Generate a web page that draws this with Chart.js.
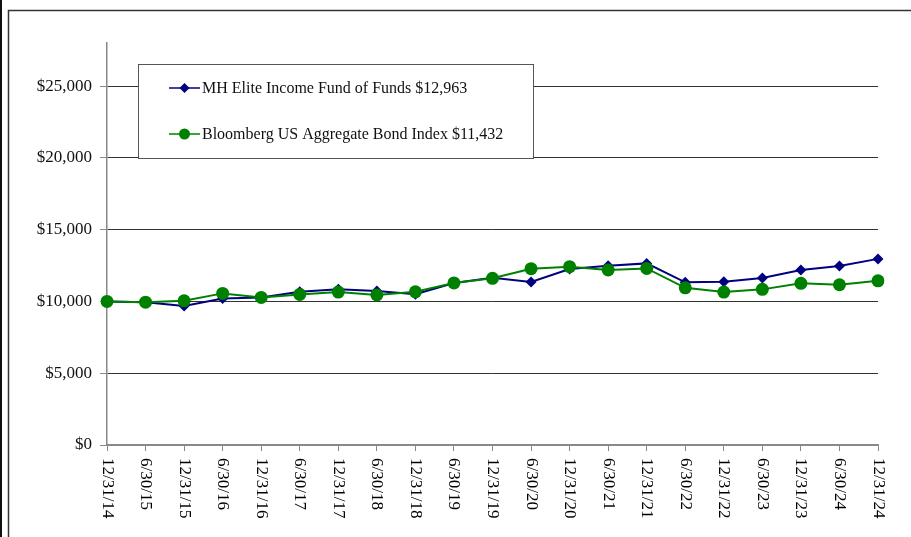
<!DOCTYPE html>
<html>
<head>
<meta charset="utf-8">
<script src="https://cdn.jsdelivr.net/npm/chart.js@4"></script>
<style>
  html, body { margin: 0; padding: 0; background: #fff; }
  #wrap { width: 911px; height: 537px; }
</style>
</head>
<body>
<div id="wrap"><canvas id="growthChart" width="911" height="537"></canvas></div>
<script>
const dates = ['12/31/14', '6/30/15', '12/31/15', '6/30/16', '12/31/16', '6/30/17', '12/31/17',
    '6/30/18', '12/31/18', '6/30/19', '12/31/19', '6/30/20', '12/31/20', '6/30/21', '12/31/21',
    '6/30/22', '12/31/22', '6/30/23', '12/31/23', '6/30/24', '12/31/24'];

const fundValues = [10000, 9950, 9680, 10210, 10280, 10680, 10840, 10720, 10500, 11280, 11650,
    11350, 12260, 12490, 12650, 11330, 11370, 11630, 12190, 12470, 12963];

const bondValues = [10000, 9950, 10040, 10560, 10280, 10490, 10650, 10450, 10670, 11290, 11610,
    12280, 12420, 12190, 12300, 10950, 10650, 10840, 11260, 11160, 11432];

const yTickValues = [0, 5000, 10000, 15000, 20000, 25000];

const fundLabel = 'MH Elite Income Fund of Funds $12,963';
const bondLabel = 'Bloomberg US Aggregate Bond Index $11,432';

const FONT = '"Liberation Serif", "Times New Roman", serif';
const NAVY = '#000080';
const GREEN = '#008000';

const fmtDollar = v => '$' + v.toLocaleString('en-US');

// outer frame like the original exhibit
const framePlugin = {
    id: 'frame',
    beforeDraw(chart) {
        const ctx = chart.ctx;
        ctx.save();
        ctx.fillStyle = '#fff';
        ctx.fillRect(0, 0, chart.width, chart.height);
        ctx.fillStyle = '#111';
        ctx.fillRect(0, 0, 2, chart.height);
        ctx.strokeStyle = '#333';
        ctx.lineWidth = 1.5;
        ctx.beginPath();
        ctx.moveTo(8.5, chart.height);
        ctx.lineTo(8.5, 10.5);
        ctx.lineTo(chart.width, 10.5);
        ctx.stroke();
        ctx.restore();
    }
};

// x labels read top-to-bottom (rotated clockwise)
const xLabelPlugin = {
    id: 'xLabels',
    afterDraw(chart) {
        const ctx = chart.ctx;
        const xs = chart.scales.x;
        ctx.save();
        ctx.font = '17px ' + FONT;
        ctx.fillStyle = '#000';
        ctx.textAlign = 'left';
        ctx.textBaseline = 'middle';
        xs.ticks.forEach((t, i) => {
            const x = xs.getPixelForTick(i);
            ctx.save();
            ctx.translate(x, xs.top + 13);
            ctx.rotate(Math.PI / 2);
            ctx.fillText(dates[i], 0, 0);
            ctx.restore();
        });
        ctx.restore();
    }
};

// boxed legend inside the plot
const legendBoxPlugin = {
    id: 'legendBox',
    afterDatasetsDraw(chart) {
        const ctx = chart.ctx;
        const box = { x: 138.5, y: 64.5, w: 395, h: 94 };
        ctx.save();
        ctx.fillStyle = '#fff';
        ctx.fillRect(box.x, box.y, box.w, box.h);
        ctx.strokeStyle = '#555';
        ctx.lineWidth = 1;
        ctx.strokeRect(box.x, box.y, box.w, box.h);
        const rows = [
            { ds: chart.data.datasets[0], y: 88 },
            { ds: chart.data.datasets[1], y: 134 }
        ];
        rows.forEach(r => {
            ctx.strokeStyle = r.ds.borderColor;
            ctx.lineWidth = 1.5;
            ctx.beginPath();
            ctx.moveTo(169, r.y);
            ctx.lineTo(200, r.y);
            ctx.stroke();
            ctx.fillStyle = r.ds.borderColor;
            ctx.beginPath();
            if (r.ds.pointStyle === 'rectRot') {
                ctx.moveTo(184.5, r.y - 5);
                ctx.lineTo(189.5, r.y);
                ctx.lineTo(184.5, r.y + 5);
                ctx.lineTo(179.5, r.y);
                ctx.closePath();
            } else {
                ctx.arc(184.5, r.y, 5.5, 0, Math.PI * 2);
            }
            ctx.fill();
            ctx.fillStyle = '#111';
            ctx.font = '16px ' + FONT;
            ctx.textAlign = 'left';
            ctx.textBaseline = 'middle';
            ctx.fillText(r.ds.label, 202, r.y + 1);
        });
        ctx.restore();
    }
};

const ctx = document.getElementById('growthChart').getContext('2d');
const chart = new Chart(ctx, {
    type: 'line',
    data: {
        labels: dates,
        datasets: [
            {
                label: fundLabel,
                data: fundValues,
                borderColor: NAVY,
                backgroundColor: NAVY,
                borderWidth: 2,
                pointStyle: 'rectRot',
                pointRadius: 5.5,
                pointBorderWidth: 0,
                tension: 0,
                order: 1
            },
            {
                label: bondLabel,
                data: bondValues,
                borderColor: GREEN,
                backgroundColor: GREEN,
                borderWidth: 2,
                pointStyle: 'circle',
                pointRadius: 6.5,
                pointBorderWidth: 0,
                tension: 0,
                order: 0
            }
        ]
    },
    options: {
        responsive: false,
        animation: false,
        layout: { padding: { top: 43, right: 33, left: 0, bottom: 0 } },
        plugins: {
            legend: { display: false },
            tooltip: { enabled: false }
        },
        scales: {
            x: {
                offset: false,
                grid: {
                    display: true,
                    drawOnChartArea: false,
                    drawTicks: true,
                    tickLength: 6,
                    color: '#888'
                },
                border: { display: true, color: '#888', width: 1.5 },
                ticks: { display: false },
                afterFit(scale) { scale.height = 92; }
            },
            y: {
                min: 0,
                max: 28000,
                grid: {
                    color: c => c.tick && c.tick.value === 0 ? '#888' : '#333',
                    lineWidth: 1,
                    tickLength: 7,
                    tickColor: '#888'
                },
                border: { display: true, color: '#888', width: 1.5 },
                ticks: {
                    padding: 8,
                    color: '#111',
                    font: { family: FONT, size: 17 },
                    callback: v => fmtDollar(v)
                },
                afterBuildTicks(scale) {
                    scale.ticks = yTickValues.map(v => ({ value: v }));
                },
                afterFit(scale) { scale.width = 107; }
            }
        }
    },
    plugins: [framePlugin, xLabelPlugin, legendBoxPlugin]
});
</script>
</body>
</html>
